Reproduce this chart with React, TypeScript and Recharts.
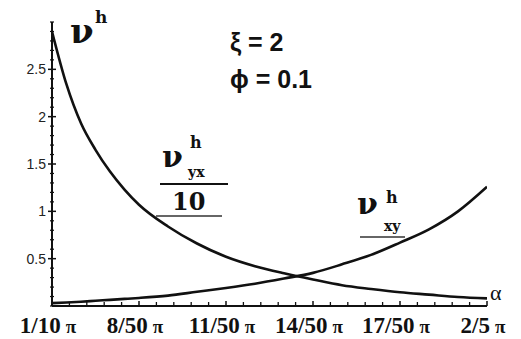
import React from 'react';
import { ComposedChart, Line, XAxis, YAxis } from 'recharts';

// α measured in units of π/50
const alphaUnits = [5, 5.5, 6, 6.5, 7, 7.5, 8, 9, 10, 11, 12, 13, 14, 15, 16, 17, 18, 19, 20];
// ν_yx^h / 10 (decreasing branch)
const nuYxOver10 = [2.9, 2.34, 1.93, 1.65, 1.42, 1.23, 1.07, 0.84, 0.66, 0.52, 0.42, 0.345, 0.28, 0.22, 0.18, 0.145, 0.12, 0.095, 0.08];
// ν_xy^h (increasing branch)
const nuXy = [0.03, 0.037, 0.045, 0.055, 0.065, 0.075, 0.085, 0.11, 0.15, 0.19, 0.235, 0.29, 0.35, 0.44, 0.54, 0.67, 0.81, 1.0, 1.26];

const xMajorTicks = [5, 8, 11, 14, 17, 20];
const xTickLabels = ['1/10', '8/50', '11/50', '14/50', '17/50', '2/5'];
const yMajorTicks = [0.5, 1, 1.5, 2, 2.5];
const yTickLabels = ['0.5', '1', '1.5', '2', '2.5'];

const X_MINOR_STEP = 0.6;
const Y_MINOR_STEP = 0.1;

const rows = alphaUnits.map((u, i) => ({ u, vyx: nuYxOver10[i], vxy: nuXy[i] }));

const xTicks: number[] = [];
for (let k = 0; k <= 25; k++) xTicks.push(+(5 + k * X_MINOR_STEP).toFixed(4));
const yTicks: number[] = [];
for (let k = 0; k <= 30; k++) yTicks.push(+(k * Y_MINOR_STEP).toFixed(4));

const near = (a: number, b: number) => Math.abs(a - b) < 1e-6;

const XTick = (p: any) => {
  const { x, y, payload } = p;
  const idx = xMajorTicks.findIndex((t) => near(t, payload.value));
  if (idx < 0) {
    return <line x1={x} x2={x} y1={y} y2={y - 4} stroke="#111" strokeWidth={1.3} />;
  }
  return (
    <g>
      <line x1={x} x2={x} y1={y} y2={y - 5} stroke="#111" strokeWidth={1.5} />
      <text
        x={x - 4}
        y={y + 27}
        textAnchor="middle"
        fontFamily="'Liberation Serif', 'Times New Roman', serif"
        fontWeight="bold"
        fontSize={23}
        fill="#111"
      >
        {xTickLabels[idx]}
        <tspan dx={5} fontSize={19}>π</tspan>
      </text>
    </g>
  );
};

const YTick = (p: any) => {
  const { x, y, payload } = p;
  const idx = yMajorTicks.findIndex((t) => near(t, payload.value));
  if (idx < 0) {
    return <line x1={x - 2} x2={x + 2} y1={y} y2={y} stroke="#111" strokeWidth={1.2} />;
  }
  return (
    <g>
      <line x1={x - 4} x2={x + 4} y1={y} y2={y} stroke="#111" strokeWidth={1.5} />
      <text
        x={x - 6}
        y={y}
        dy="0.35em"
        textAnchor="end"
        fontFamily="'Liberation Sans', Arial, sans-serif"
        fontSize={14}
        fill="#222"
      >
        {yTickLabels[idx]}
      </text>
    </g>
  );
};

const slab = "'DejaVu Serif', serif";
const sans = "'Liberation Sans', Arial, sans-serif";
const serif = "'Liberation Serif', 'Times New Roman', serif";

export default function App() {
  return (
    <div style={{ position: 'absolute', left: 0, top: 0, width: 521, height: 339, background: '#fff' }}>
      <ComposedChart
        width={521}
        height={339}
        data={rows}
        margin={{ top: 22, right: 34, bottom: 8, left: 22 }}
      >
        <XAxis
          dataKey="u"
          type="number"
          domain={[5, 20]}
          ticks={xTicks}
          interval={0}
          tickSize={0}
          tickMargin={0}
          tickLine={false}
          tick={(p: any) => <XTick {...p} />}
          axisLine={{ stroke: '#111', strokeWidth: 2 }}
          height={25}
          allowDataOverflow
        />
        <YAxis
          type="number"
          domain={[0, 3]}
          ticks={yTicks}
          interval={0}
          tickSize={0}
          tickMargin={0}
          tickLine={false}
          tick={(p: any) => <YTick {...p} />}
          axisLine={{ stroke: '#111', strokeWidth: 2 }}
          width={30}
          allowDataOverflow
        />
        <Line dataKey="vyx" type="monotone" stroke="#111" strokeWidth={2.6} dot={false} isAnimationActive={false} />
        <Line dataKey="vxy" type="monotone" stroke="#111" strokeWidth={2.6} dot={false} isAnimationActive={false} />
      </ComposedChart>
      <svg
        width={521}
        height={339}
        style={{ position: 'absolute', left: 0, top: 0, pointerEvents: 'none' }}
      >
        {/* axis title ν^h */}
        <text x={70} y={43} fontFamily={slab} fontWeight="bold" fontSize={34} fill="#111">ν</text>
        <text x={95} y={23} fontFamily={slab} fontWeight="bold" fontSize={17} fill="#111">h</text>

        {/* parameters */}
        <text x={230} y={51} fontFamily={sans} fontWeight="bold" fontSize={25} fill="#111">ξ = 2</text>
        <text x={230} y={88} fontFamily={sans} fontWeight="bold" fontSize={25} fill="#111">ϕ = 0.1</text>

        {/* ν_yx^h / 10 */}
        <text x={162} y={167} fontFamily={slab} fontWeight="bold" fontSize={30} fill="#111">ν</text>
        <text x={190} y={148} fontFamily={slab} fontWeight="bold" fontSize={16} fill="#111">h</text>
        <text x={188} y={177} fontFamily={slab} fontWeight="bold" fontSize={14} fill="#111">yx</text>
        <line x1={160} x2={228} y1={184} y2={184} stroke="#111" strokeWidth={2} />
        <text x={172} y={210} fontFamily={slab} fontWeight="bold" fontSize={24} fill="#111">10</text>
        <line x1={156} x2={222} y1={216} y2={216} stroke="#333" strokeWidth={1.3} />

        {/* ν_xy^h */}
        <text x={357} y={214} fontFamily={slab} fontWeight="bold" fontSize={30} fill="#111">ν</text>
        <text x={386} y={203} fontFamily={slab} fontWeight="bold" fontSize={16} fill="#111">h</text>
        <text x={384} y={231} fontFamily={slab} fontWeight="bold" fontSize={14} fill="#111">xy</text>
        <line x1={360} x2={405} y1={237} y2={237} stroke="#333" strokeWidth={1.3} />

        {/* horizontal axis symbol */}
        <text x={490} y={300} fontFamily={serif} fontSize={22} fill="#111">α</text>
      </svg>
    </div>
  );
}
